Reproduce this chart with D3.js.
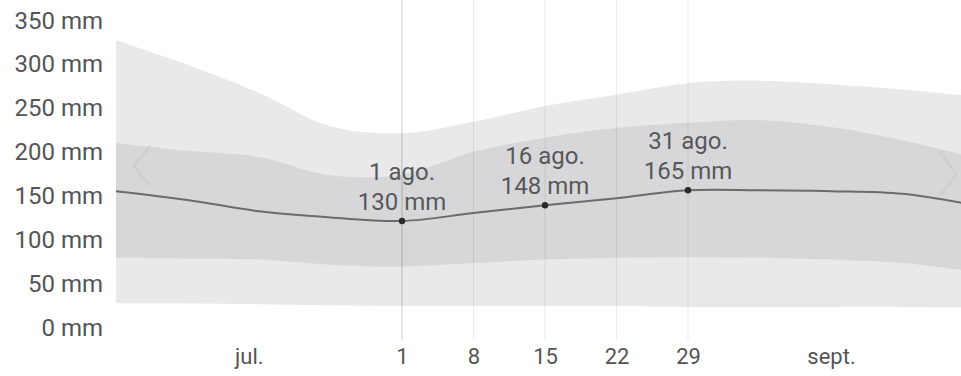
<!DOCTYPE html>
<html>
<head>
<meta charset="utf-8">
<script src="https://cdn.jsdelivr.net/npm/d3@7"></script>
<style>
  html, body { margin: 0; padding: 0; background: #fff; }
  svg { display: block; font-family: Roboto, "Noto Sans", sans-serif; }
</style>
</head>
<body>
<div id="chart"></div>
<script>
// ---- data (mm of rain) ----
const dates      = ["2023-07-04", "2023-07-11", "2023-07-18", "2023-07-25", "2023-08-01", "2023-08-08",
                    "2023-08-15", "2023-08-22", "2023-08-29", "2023-09-05", "2023-09-12", "2023-09-19", "2023-09-26"];
const outerHigh  = [336, 308, 276, 238, 230, 243, 261, 274, 287, 290, 286, 280, 272];
const innerHigh  = [219, 210, 203, 182, 183, 209, 225, 236, 242, 245, 237, 222, 202];
const median     = [164, 154, 141, 134, 130, 139, 148, 156, 165, 165, 164, 161, 148];
const innerLow   = [88, 87, 86, 80, 78, 82, 86, 88, 89, 88, 86, 82, 72];
const outerLow   = [36, 36, 35, 34, 33, 33, 33, 33, 32, 32, 32, 32, 31];

const markerDates  = ["2023-08-01", "2023-08-15", "2023-08-29"];
const markerValues = [130, 148, 165];
const markerLabels = ["1 ago.", "16 ago.", "31 ago."];

const yTicks     = [0, 50, 100, 150, 200, 250, 300, 350];
const xTickDates = ["2023-07-17", "2023-08-01", "2023-08-08", "2023-08-15", "2023-08-22", "2023-08-29", "2023-09-12"];
const xTickText  = ["jul.", "1", "8", "15", "22", "29", "sept."];
const gridDates  = ["2023-08-01", "2023-08-08", "2023-08-15", "2023-08-22", "2023-08-29"];

// ---- setup ----
const width = 961, height = 376;
const plotLeft = 115, plotRight = 961;
const parse = d3.timeParse("%Y-%m-%d");

const rows = dates.map((d, i) => ({
  date: parse(d),
  oh: outerHigh[i], ih: innerHigh[i], med: median[i], il: innerLow[i], ol: outerLow[i]
}));

const svg = d3.select("#chart")
  .append("svg")
    .attr("width", width)
    .attr("height", height)
    .attr("viewBox", [0, 0, width, height]);

// x: Aug 1 -> 402px, Aug 29 -> 688px
const xScale = d3.scaleTime()
  .domain([parse("2023-08-01"), parse("2023-08-29")])
  .range([402, 688]);

const yScale = d3.scaleLinear()
  .domain([0, 350])
  .range([335, 28]);

svg.append("clipPath")
    .attr("id", "plot-clip")
  .append("rect")
    .attr("x", plotLeft)
    .attr("y", 0)
    .attr("width", plotRight - plotLeft)
    .attr("height", 340);

const plot = svg.append("g").attr("clip-path", "url(#plot-clip)");

const smooth = d3.curveCatmullRom.alpha(0.5);

/* bands */
const outerArea = d3.area()
  .x(d => xScale(d.date))
  .y0(d => yScale(d.ol))
  .y1(d => yScale(d.oh))
  .curve(smooth);

const innerArea = d3.area()
  .x(d => xScale(d.date))
  .y0(d => yScale(d.il))
  .y1(d => yScale(d.ih))
  .curve(smooth);

plot.append("path")
  .datum(rows)
  .attr("d", outerArea)
  .attr("fill", "#e9e9eb");

plot.append("path")
  .datum(rows)
  .attr("d", innerArea)
  .attr("fill", "#d7d7da");

/* vertical grid lines at the weekly ticks */
plot.append("g")
  .selectAll("line")
  .data(gridDates)
  .join("line")
    .attr("x1", d => xScale(parse(d)))
    .attr("x2", d => xScale(parse(d)))
    .attr("y1", 0)
    .attr("y2", 340)
    .attr("stroke", "#000")
    .attr("stroke-opacity", (d, i) => i === 0 ? 0.16 : 0.07)
    .attr("stroke-width", 1.2);

/* nav chevrons (faint) */
const chev = svg.append("g")
  .attr("fill", "none")
  .attr("stroke", "#cfcfd2")
  .attr("stroke-width", 3)
  .attr("stroke-linejoin", "round");
chev.append("path").attr("d", "M150,146 L134,166 L150,186");
chev.append("path").attr("d", "M940,152 L956,174 L940,196");

/* median line */
const line = d3.line()
  .x(d => xScale(d.date))
  .y(d => yScale(d.med))
  .curve(smooth);

plot.append("path")
  .datum(rows)
  .attr("d", line)
  .attr("fill", "none")
  .attr("stroke", "#6b6b6e")
  .attr("stroke-width", 2);

/* markers + labels */
const markers = markerDates.map((d, i) => ({ date: parse(d), v: markerValues[i], label: markerLabels[i] }));

const mk = svg.append("g");
mk.selectAll("circle")
  .data(markers)
  .join("circle")
    .attr("cx", d => xScale(d.date))
    .attr("cy", d => yScale(d.v))
    .attr("r", 3.2)
    .attr("fill", "#2a2a2a");

const lbl = mk.selectAll("text")
  .data(markers)
  .join("text")
    .attr("text-anchor", "middle")
    .attr("font-size", 24)
    .attr("fill", "#58585a");
lbl.append("tspan")
  .attr("x", d => xScale(d.date))
  .attr("y", d => yScale(d.v) - 41)
  .text(d => d.label);
lbl.append("tspan")
  .attr("x", d => xScale(d.date))
  .attr("y", d => yScale(d.v) - 11)
  .text(d => `${d.v} mm`);

/* axes */
const leftAxis = d3.axisLeft(yScale)
  .tickValues(yTicks)
  .tickSize(0)
  .tickPadding(0)
  .tickFormat(d => `${d} mm`);

svg.append("g")
  .attr("transform", "translate(103,0)")
  .call(leftAxis)
  .call(g => g.select(".domain").remove())
  .call(g => g.selectAll("text")
    .attr("dy", 0)
    .attr("font-size", 24)
    .attr("font-family", "Roboto, sans-serif")
    .attr("fill", "#555"));

const bottomAxis = d3.axisBottom(xScale)
  .tickValues(xTickDates.map(parse))
  .tickSize(0)
  .tickFormat((d, i) => xTickText[i]);

svg.append("g")
  .attr("transform", "translate(0,340)")
  .call(bottomAxis)
  .call(g => g.select(".domain").remove())
  .call(g => g.selectAll("text")
    .attr("y", 24)
    .attr("dy", 0)
    .attr("font-size", 22)
    .attr("font-family", "Roboto, sans-serif")
    .attr("fill", "#555"));
</script>
</body>
</html>
